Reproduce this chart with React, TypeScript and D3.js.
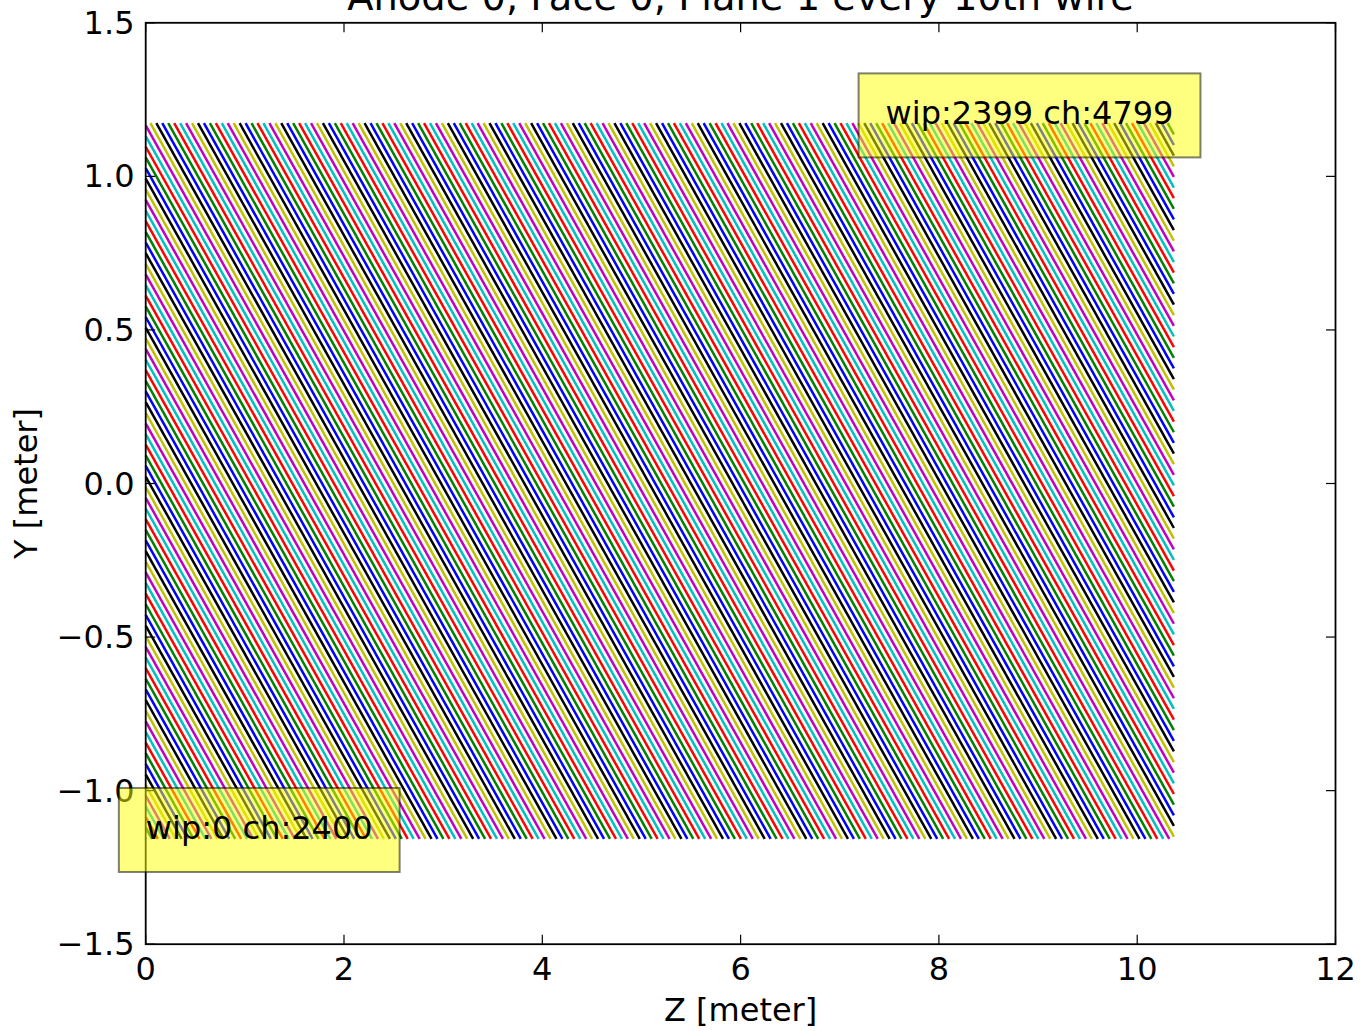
import React from 'react';
import * as d3 from 'd3';

// ---- chart content ----
const titleText = 'Anode 0, Face 0, Plane 1 every 10th wire';
const xLabelText = 'Z [meter]';
const yLabelText = 'Y [meter]';
const xDomain = [0, 12];
const yDomain = [-1.5, 1.5];
const xTicks = [0, 2, 4, 6, 8, 10, 12];
const yTicks = [-1.5, -1.0, -0.5, 0.0, 0.5, 1.0, 1.5];

// ---- wire plane geometry (meters) ----
const planeZ = [0, 10.37];
const planeY = [-1.157, 1.173];
const wirePitch = [0.003];
const wireAngleDeg = [30];
const wireCount = [2400];
const wireStep = [10];
const colorCycle = ['#0000ff', '#008000', '#ff0000', '#00bfbf', '#bf00bf', '#bfbf00', '#000000'];

// ---- annotations ----
const annotWires = [0, 2399];
const annotChannels = [2400, 4799];
const annotAnchor = ['start', 'end'];

const W = 1360;
const H = 1031;
const FONT = 'DejaVu Sans';

function wireSegment(idx: number) {
  const th = (wireAngleDeg[0] * Math.PI) / 180;
  const nz = Math.sin(th);
  const ny = Math.cos(th);
  const [z0, z1] = planeZ;
  const [y0, y1] = planeY;
  const s = (idx + 0.5) * wirePitch[0];
  let a: [number, number];
  const yl = y0 + s / ny;
  if (yl <= y1) a = [z0, yl];
  else a = [z0 + (s - ny * (y1 - y0)) / nz, y1];
  let b: [number, number];
  const zb = z0 + s / nz;
  if (zb <= z1) b = [zb, y0];
  else b = [z1, y0 + (s - nz * (z1 - z0)) / ny];
  return { a, b };
}

function measure(text: string, size: number) {
  const c = document.createElement('canvas').getContext('2d');
  if (!c) return text.length * size * 0.6;
  c.font = `${size}px "${FONT}"`;
  return c.measureText(text).width;
}

export default function App() {
  const x = d3.scaleLinear().domain(xDomain).range([145.7, 1335.5]);
  const y = d3.scaleLinear().domain(yDomain).range([944.2, 22.8]);
  const [xl, xr] = x.range();
  const [yb, yt] = y.range();

  const drawn = d3.range(0, wireCount[0], wireStep[0]);
  const line = d3
    .line<[number, number]>()
    .x((d) => x(d[0]))
    .y((d) => y(d[1]));

  const tickLen = 9.5;
  const fmtY = (v: number) => (v < 0 ? '\u2212' : '') + Math.abs(v).toFixed(1);

  const baseFont = 32;
  const titleFont = 38.4;
  const annFont = 32;

  return (
    <svg
      width={W}
      height={H}
      style={{ position: 'absolute', left: 0, top: 0, background: '#fff' }}
      fontFamily={FONT}
    >
      <rect x={0} y={0} width={W} height={H} fill="#fff" />
      {/* wires */}
      <g fill="none" strokeWidth={2.5} strokeLinecap="butt">
        {drawn.map((w, i) => {
          const seg = wireSegment(w);
          return (
            <path
              key={w}
              d={line([seg.a, seg.b]) || ''}
              stroke={colorCycle[i % colorCycle.length]}
            />
          );
        })}
      </g>

      {/* ticks */}
      <g stroke="#000" strokeWidth={1.2}>
        {xTicks.map((t) => (
          <g key={'xt' + t}>
            <line x1={x(t)} x2={x(t)} y1={yb} y2={yb - tickLen} />
            <line x1={x(t)} x2={x(t)} y1={yt} y2={yt + tickLen} />
          </g>
        ))}
        {yTicks.map((t) => (
          <g key={'yt' + t}>
            <line x1={xl} x2={xl + tickLen} y1={y(t)} y2={y(t)} />
            <line x1={xr} x2={xr - tickLen} y1={y(t)} y2={y(t)} />
          </g>
        ))}
      </g>
      {/* spines */}
      <rect x={xl} y={yt} width={xr - xl} height={yb - yt} fill="none" stroke="#000" strokeWidth={1.8} />

      {/* tick labels */}
      <g fontSize={baseFont} fill="#000">
        {xTicks.map((t) => (
          <text key={'xl' + t} x={x(t)} y={980} textAnchor="middle">
            {String(t)}
          </text>
        ))}
        {yTicks.map((t) => (
          <text key={'yl' + t} x={134.5} y={y(t) + 11} textAnchor="end">
            {fmtY(t)}
          </text>
        ))}
      </g>

      {/* axis labels & title */}
      <text x={(xl + xr) / 2} y={1020.5} fontSize={baseFont} textAnchor="middle">
        {xLabelText}
      </text>
      <text
        transform={`translate(37, ${(yt + yb) / 2}) rotate(-90)`}
        fontSize={baseFont}
        textAnchor="middle"
      >
        {yLabelText}
      </text>
      <text x={(xl + xr) / 2} y={10} fontSize={titleFont} textAnchor="middle">
        {titleText}
      </text>

      {/* annotations */}
      {annotWires.map((w, i) => {
        const seg = wireSegment(w);
        const cz = (seg.a[0] + seg.b[0]) / 2;
        const cy = (seg.a[1] + seg.b[1]) / 2;
        const px = x(cz);
        const py = y(cy);
        const label = `wip:${w} ch:${annotChannels[i]}`;
        const tw = measure(label, annFont);
        const left = annotAnchor[i] === 'start' ? px : px - tw;
        return (
          <g key={'an' + w}>
            <rect
              x={left - 27}
              y={py - 50.6}
              width={tw + 54}
              height={84}
              fill="#ffff00"
              fillOpacity={0.5}
              stroke="#000"
              strokeOpacity={0.5}
              strokeWidth={2}
            />
            <text x={px} y={py} fontSize={annFont} textAnchor={annotAnchor[i] as any} fill="#000">
              {label}
            </text>
          </g>
        );
      })}
    </svg>
  );
}
